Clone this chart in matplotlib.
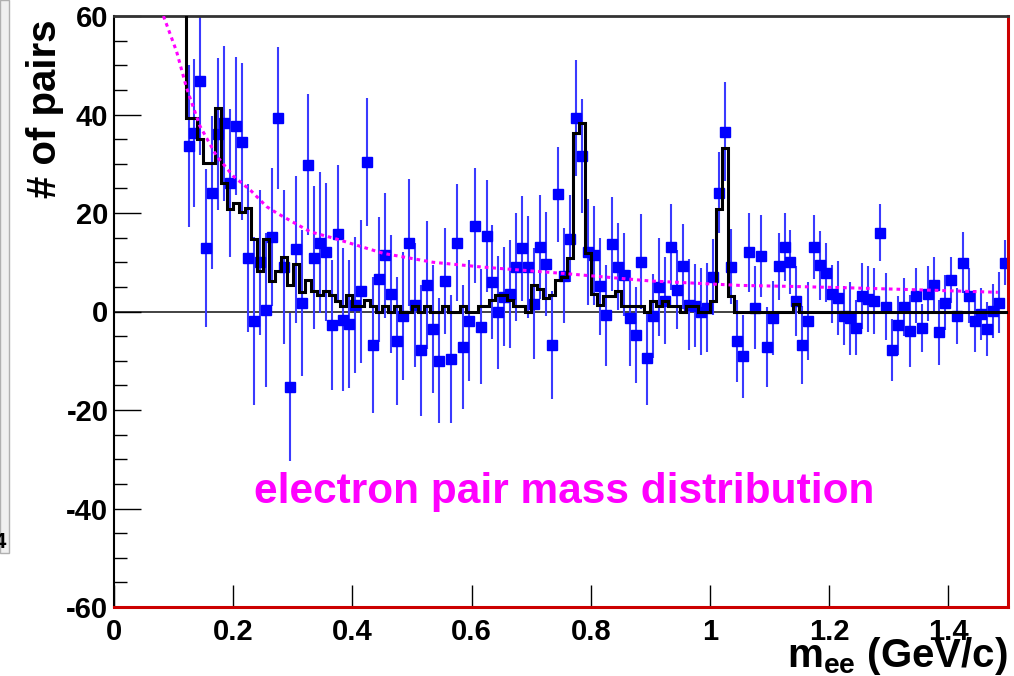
import numpy as np
import matplotlib
matplotlib.use("Agg")
import matplotlib.pyplot as plt
from matplotlib.ticker import MultipleLocator
from matplotlib.patches import Rectangle

plt.rcParams['font.family'] = ['Liberation Sans', 'DejaVu Sans']
plt.rcParams['font.weight'] = 'bold'
plt.rcParams['mathtext.fontset'] = 'custom'
plt.rcParams['mathtext.rm'] = 'Liberation Sans:bold'
plt.rcParams['mathtext.bf'] = 'Liberation Sans:bold'
plt.rcParams['mathtext.it'] = 'Liberation Sans:bold'

# binning (GeV/c), 0.01 wide bins starting at 0.12
first_edge = 0.12
bin_width = 0.01

# background subtracted pairs, one per bin
pairs = [
    33.6, 36.2, 46.8, 12.9, 24.1, 36.0, 38.2, 26.1, 37.6, 34.5,
    10.9, -1.9, 10.0, 0.3, 15.2, 39.3, 9.0, -15.4, 12.6, 1.8,
    29.8, 10.9, 14.0, 12.0, -2.7, 15.7, -1.7, -2.5, 1.3, 4.1,
    30.4, -6.8, 6.5, 11.4, 3.6, -6.0, -0.9, 14.0, 1.3, -7.9,
    5.3, -3.6, -10.0, 6.2, -9.6, 14.0, -7.2, -1.9, 17.4, -3.1,
    15.4, 6.0, -0.2, 3.0, 3.5, 9.0, 12.8, 9.0, 1.6, 13.1,
    9.7, -6.8, 23.8, 7.3, 14.8, 39.3, 31.6, 12.1, 11.4, 5.1,
    -0.8, 13.7, 9.1, 7.5, -1.3, -4.8, 10.1, -9.4, -0.9, 5.0,
    2.2, 13.1, 4.4, 9.2, 1.4, 1.2, 0.0, 0.8, 7.0, 24.1,
    36.5, 9.1, -6.0, -9.1, 12.0, 0.8, 11.2, -7.2, -1.4, 9.2,
    13.1, 10.1, 2.2, -6.8, -1.9, 13.1, 9.4, 7.9, 3.6, 2.7,
    -0.9, -1.4, -3.3, 3.2, 2.5, 2.2, 16.0, 1.0, -7.9, -2.8,
    1.0, -4.0, 3.2, -3.3, 3.6, 5.3, -4.2, 1.8, 6.4, -0.9,
    9.9, 3.2, -1.9, -0.5, -3.6, 0.1, 1.8, 9.9,
]

pair_errors = [
    16.4, 15, 15, 16, 15.5, 15.4, 15.7, 15, 14, 16,
    15, 17, 14.7, 15.7, 14, 14.4, 15.7, 15, 15, 14.8,
    14.3, 14.5, 14.3, 14, 13.2, 14, 14.5, 13, 13.8, 14.5,
    13, 13.8, 12.6, 12.7, 12, 13, 13, 12.9, 12.6, 13.3,
    13, 13, 12.7, 10.8, 13, 11.9, 12.5, 12.3, 11.7, 11.7,
    11.4, 11.5, 11.5, 10, 11, 11, 10.6, 10.3, 11.3, 10.6,
    10.6, 10.9, 9.6, 9.6, 8.9, 11.8, 11.6, 10.8, 10, 9.9,
    10.3, 9.6, 8.8, 8.4, 9.7, 9.7, 9.6, 9.6, 8.5, 9.9,
    8.9, 8.7, 8, 8.6, 9.3, 8.5, 8.8, 9.1, 7.8, 8.2,
    10, 7.6, 8.4, 8.4, 8, 8.5, 8.3, 8.1, 7.5, 6.8,
    7, 6.5, 7.1, 7.9, 7.9, 6.5, 7, 6, 5.9, 7.5,
    6, 7.4, 5.6, 6.7, 6.7, 6.7, 5.8, 6.8, 6.3, 6,
    5.9, 7.3, 5.6, 4.9, 5.6, 5.8, 6.6, 5.6, 4.6, 5.6,
    6.2, 5.6, 6.3, 5.2, 5.5, 5.5, 6.2, 4.6,
]

# simulated cocktail histogram, same bins; the first bin (0.11-0.12) is off scale
cocktail_offscale = 80.0
cocktail = [
    39.3, 39.3, 35.0, 30.1, 30.1, 41.4, 26.1, 20.9, 22.0, 20.2,
    21.0, 14.8, 8.2, 14.8, 6.2, 8.2, 11.0, 5.3, 9.7, 4.0,
    6.3, 4.1, 3.4, 4.1, 3.4, 2.2, 1.2, 3.4, 1.2, 1.2,
    2.3, 1.2, 0, 1.2, 0, 1.2, 0, 0, 1.2, 0,
    1.2, 0, 0, 1.2, 0, 0, 1.2, 0, 0, 1.2,
    1.2, 2.3, 3.4, 3.4, 2.3, 1.2, 1.2, 0, 5.3, 4.5,
    2.7, 3.4, 6.3, 7.0, 10.8, 36.2, 38.2, 11.8, 3.6, 1.4,
    3.2, 3.2, 4.2, 1.2, 1.2, 1.2, 1.2, 0, 2.2, 1.2,
    2.2, 1.2, 1.2, 0, 1.2, 1.2, 0, 0, 2.2, 20.9,
    33.1, 3.2, 0, 0, 0, 0, 0, 0, 0, 0,
    0, 0, 1.5, 0, 0, 0, 0, 0, 0, 0,
    0, 0, 0, 0, 0, 0, 0, 0, 0, 0,
    0, 0, 0, 0, 0, 0, 0, 0, 0, 0,
    0, 0, 0, 0, 0, 0, 0, 0,
]

# combinatorial background estimate (dotted magenta)
bkg_mass = [0.083, 0.105, 0.122, 0.144, 0.172, 0.200, 0.230, 0.256, 0.273, 0.329,
            0.371, 0.452, 0.535, 0.620, 0.757, 0.900, 1.050, 1.134, 1.235, 1.350, 1.483]
bkg_pairs = [60, 52.8, 45.3, 37.7, 31.6, 27.5, 24.5, 21.3, 20.0, 16.2,
             14.8, 11.8, 10.0, 9.0, 7.7, 6.2, 5.3, 5.1, 4.8, 4.4, 3.9]

x_ticks = [0, 0.2, 0.4, 0.6, 0.8, 1.0, 1.2, 1.4]
x_tick_labels = ["0", "0.2", "0.4", "0.6", "0.8", "1", "1.2", "1.4"]
y_ticks = [-60, -40, -20, 0, 20, 40, 60]
y_tick_labels = ["-60", "-40", "-20", "0", "20", "40", "60"]

centers = first_edge + bin_width * (np.arange(len(pairs)) + 0.5)
edges = first_edge + bin_width * np.arange(-1, len(cocktail) + 1)
hist_vals = [cocktail_offscale] + cocktail

fig = plt.figure(figsize=(10.14, 6.76), dpi=100)
ax = fig.add_axes([114/1014, 1-607/676, (1008-114)/1014, (607-16)/676])

ax.axhline(0, color="#222222", lw=1.2, zorder=1.5)
ax.errorbar(centers, pairs, yerr=pair_errors, fmt="s", color="#0000ff",
            ecolor="#3a3aff", elinewidth=1.5, ms=6.5, capsize=0, zorder=2)
ax.stairs(hist_vals, edges, baseline=None, color="black", lw=2.2, zorder=3)
ax.plot(bkg_mass, bkg_pairs, color="#ff00ff", lw=2.2, ls=(0, (1.2, 1.3)), zorder=4)

ax.set_xlim(0, 1.5)
ax.set_ylim(-60, 60)

ax.set_xticks(x_ticks)
ax.set_xticklabels(x_tick_labels)
ax.set_yticks(y_ticks)
ax.set_yticklabels(y_tick_labels)
ax.yaxis.set_minor_locator(MultipleLocator(5))
ax.tick_params(axis="y", which="major", direction="in", length=19.5, width=1,
               labelsize=21, pad=4)
ax.tick_params(axis="y", which="minor", direction="in", length=9.5, width=1)
ax.tick_params(axis="x", which="major", direction="in", length=16, width=1,
               labelsize=21, pad=8)
for lab in ax.get_xticklabels() + ax.get_yticklabels():
    lab.set_fontweight("bold")

ax.spines["left"].set_color("black")
ax.spines["left"].set_linewidth(1.5)
ax.spines["top"].set_color("#333333")
ax.spines["top"].set_linewidth(2)
ax.spines["right"].set_color("#cc0000")
ax.spines["right"].set_linewidth(2.2)
ax.spines["bottom"].set_color("#cc0000")
ax.spines["bottom"].set_linewidth(2.2)

fig.text(45/1014, 1-20/676, "# of pairs", rotation=90, ha="center", va="top",
         fontsize=29, fontweight="bold")
fig.text(1008/1014, 1-667/676, r"m$_{\mathbf{ee}}$ (GeV/c)", ha="right", va="baseline",
         fontsize=29, fontweight="bold")
fig.text(564/1014, 1-503/676, "electron pair mass distribution", ha="center",
         va="baseline", fontsize=30.5, fontweight="bold", color="#ff00ff")

# cut-off panel at the left edge of the slide
fig.patches.append(Rectangle((0, 1-553/676), 9/1014, 553/676, transform=fig.transFigure,
                             facecolor="#f0f0f0", edgecolor="#b0b0b0", lw=1))
fig.text(-6/1014, 1-553/676, "4", ha="left", va="bottom", fontsize=16, fontweight="bold")

fig.savefig("out.png", dpi=100)
